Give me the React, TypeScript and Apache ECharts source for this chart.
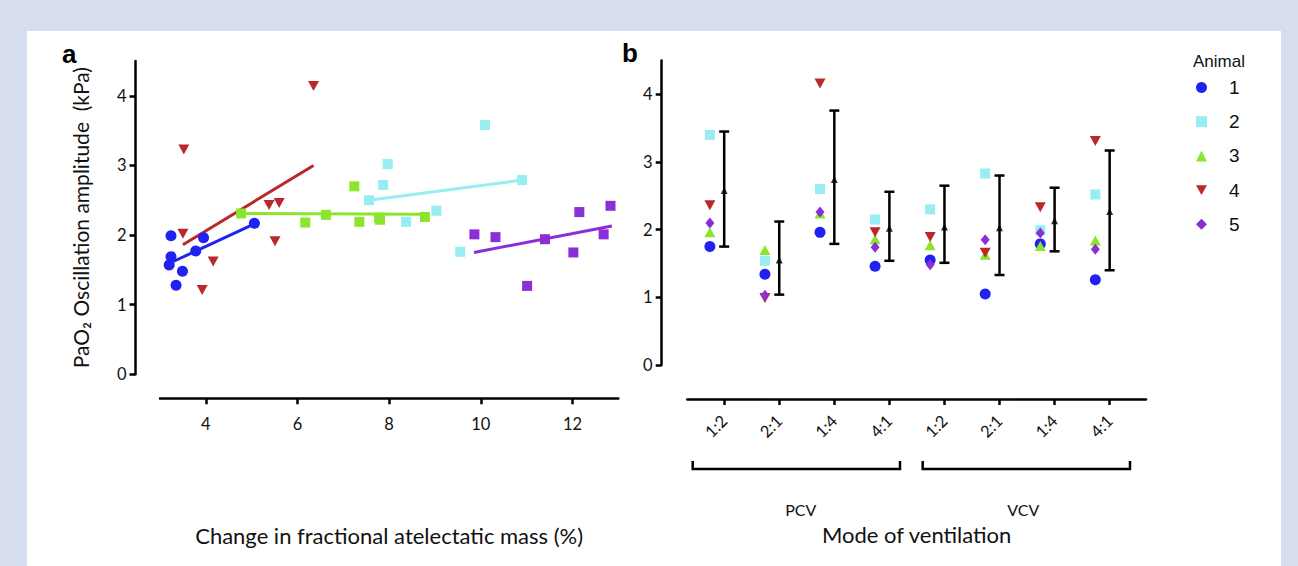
import React, { useEffect, useRef } from "react";
import * as echarts from "echarts";

// ---------- shared ----------
const animals = ["1", "2", "3", "4", "5"];
const colors = ["#2121f2", "#98edf2", "#8be52c", "#b9282b", "#8a2fd6"];

// ---------- panel a : change in fractional atelectatic mass vs PaO2 amplitude ----------
const a1x = [3.24, 3.24, 3.2, 3.49, 3.35, 3.78, 3.95, 5.06];
const a1y = [1.99, 1.69, 1.57, 1.48, 1.28, 1.77, 1.96, 2.17];
const a2x = [10.09, 7.97, 7.87, 7.56, 9.03, 8.37, 9.55, 10.9];
const a2y = [3.58, 3.02, 2.72, 2.5, 2.35, 2.19, 1.76, 2.79];
const a3x = [4.77, 6.17, 6.62, 7.24, 7.35, 7.78, 7.8, 8.78];
const a3y = [2.31, 2.18, 2.29, 2.7, 2.19, 2.25, 2.22, 2.26];
const a4x = [3.52, 3.5, 4.16, 3.92, 5.38, 5.6, 5.51, 6.35];
const a4y = [3.23, 2.02, 1.62, 1.21, 2.43, 2.46, 1.91, 4.14];
const a5x = [9.86, 10.32, 11.01, 11.4, 12.02, 12.15, 12.68, 12.83];
const a5y = [2.01, 1.97, 1.27, 1.94, 1.75, 2.33, 2.01, 2.42];

// regression line end points [x0, y0, x1, y1]
const fit1 = [3.29, 1.62, 5.06, 2.16];
const fit2 = [7.56, 2.5, 10.9, 2.79];
const fit3 = [4.72, 2.31, 8.78, 2.3];
const fit4 = [3.5, 1.86, 6.35, 3.0];
const fit5 = [9.85, 1.75, 12.86, 2.13];

const aXTicks = [4, 6, 8, 10, 12];
const yTicks = [0, 1, 2, 3, 4];

// ---------- panel b : mode of ventilation ----------
const modes = ["1:2", "2:1", "1:4", "4:1", "1:2", "2:1", "1:4", "4:1"];
const groups = ["PCV", "VCV"];
const b1 = [1.75, 1.34, 1.96, 1.46, 1.55, 1.05, 1.79, 1.26];
const b2 = [3.4, 1.54, 2.6, 2.15, 2.3, 2.83, 1.99, 2.52];
const b3 = [1.96, 1.7, 2.24, 1.86, 1.77, 1.63, 1.76, 1.84];
const b4 = [2.36, 0.99, 4.16, 1.96, 1.89, 1.66, 2.33, 3.31];
const b5 = [2.1, 1.03, 2.26, 1.74, 1.48, 1.85, 1.95, 1.71];
const bMean = [2.58, 1.55, 2.74, 2.02, 2.04, 2.03, 2.13, 2.27];
const bLow = [1.75, 1.04, 1.79, 1.54, 1.51, 1.33, 1.68, 1.4];
const bHigh = [3.45, 2.12, 3.76, 2.56, 2.65, 2.8, 2.62, 3.17];

const FONT = "Lato";
const DOWN_TRIANGLE = "path://M0,0 L10,0 L5,9 Z";

export default function App() {
  const ref = useRef<HTMLDivElement>(null);

  useEffect(() => {
    if (!ref.current) return;
    const chart = echarts.init(ref.current, undefined, { renderer: "svg" });

    const ax = [a1x, a2x, a3x, a4x, a5x];
    const ay = [a1y, a2y, a3y, a4y, a5y];
    const fits = [fit1, fit2, fit3, fit4, fit5];
    const bVals = [b1, b2, b3, b4, b5];
    const aSymbols = ["circle", "rect", "rect", DOWN_TRIANGLE, "rect"];
    const aSizes: any[] = [11, 10, 10, [11, 10], 10];
    const bSymbols = ["circle", "rect", "triangle", DOWN_TRIANGLE, "diamond"];
    const bSizes: any[] = [11, 10, [11, 10], [11, 10], [9, 11]];
    const pointShift = -0.26;

    const series: any[] = [];
    animals.forEach((name, k) => {
      series.push({
        name: "a" + name,
        type: "scatter",
        xAxisIndex: 0,
        yAxisIndex: 0,
        symbol: aSymbols[k],
        symbolSize: aSizes[k],
        itemStyle: { color: colors[k], opacity: 1 },
        data: ax[k].map((x, i) => [x, ay[k][i]]),
        z: 3,
      });
      series.push({
        name: "fit" + name,
        type: "line",
        xAxisIndex: 0,
        yAxisIndex: 0,
        symbol: "none",
        lineStyle: { color: colors[k], width: 3 },
        data: [
          [fits[k][0], fits[k][1]],
          [fits[k][2], fits[k][3]],
        ],
        z: 2,
      });
    });
    series.push({
      name: "Mean ± SD",
      type: "custom",
      xAxisIndex: 1,
      yAxisIndex: 1,
      encode: { x: 0, y: [1, 2] },
      data: modes.map((_, i) => [i, bLow[i], bHigh[i]]),
      renderItem: (params: any, api: any) => {
        const x = api.value(0);
        const top = api.coord([x, api.value(2)]);
        const bot = api.coord([x, api.value(1)]);
        const cap = 5;
        const style = { stroke: "#000", lineWidth: 2.5 };
        return {
          type: "group",
          children: [
            { type: "line", shape: { x1: top[0], y1: top[1], x2: bot[0], y2: bot[1] }, style },
            { type: "line", shape: { x1: top[0] - cap, y1: top[1], x2: top[0] + cap, y2: top[1] }, style },
            { type: "line", shape: { x1: bot[0] - cap, y1: bot[1], x2: bot[0] + cap, y2: bot[1] }, style },
          ],
        };
      },
      z: 3,
    });
    series.push({
      name: "Mean",
      type: "scatter",
      xAxisIndex: 1,
      yAxisIndex: 1,
      symbol: "triangle",
      symbolSize: [7, 7],
      itemStyle: { color: "#000" },
      data: modes.map((_, i) => [i, bMean[i]]),
      z: 4,
    });
    animals.forEach((name, k) => {
      series.push({
        name,
        type: "scatter",
        xAxisIndex: 1,
        yAxisIndex: 1,
        symbol: bSymbols[k],
        symbolSize: bSizes[k],
        itemStyle: { color: colors[k], opacity: 1 },
        data: bVals[k].map((v, i) => [i + pointShift, v]),
        z: 3 + k * 0.1,
      });
    });

    const axisLine = { show: true, onZero: false, lineStyle: { color: "#000", width: 2.5 } };
    const axisTickBase = { show: true, length: 6, lineStyle: { color: "#000", width: 2.5 } };
    const tickLabel = { fontFamily: FONT, fontSize: 16.5, color: "#111" };
    const nameStyle = { fontFamily: FONT, fontSize: 22, color: "#111" };

    const option: any = {
      animation: false,
      backgroundColor: "#d5ddee",
      grid: [
        { left: 160, top: 61, width: 458.3, height: 313.3 },
        { left: 687.3, top: 60.5, width: 458.7, height: 304.5 },
      ],
      xAxis: [
        {
          gridIndex: 0,
          type: "value",
          min: 3,
          max: 13,
          offset: 24,
          axisLine,
          axisTick: { ...axisTickBase, customValues: aXTicks },
          axisLabel: { ...tickLabel, customValues: aXTicks, margin: 17 },
          splitLine: { show: false },
          name: "Change in fractional atelectatic mass (%)",
          nameLocation: "middle",
          nameGap: 126,
          nameTextStyle: nameStyle,
        },
        {
          gridIndex: 1,
          type: "value",
          min: -0.67,
          max: 7.66,
          offset: 34,
          axisLine,
          axisTick: { ...axisTickBase, customValues: modes.map((_, i) => i) },
          axisLabel: {
            ...tickLabel,
            customValues: modes.map((_, i) => i),
            formatter: (v: number) => modes[Math.round(v)] ?? "",
            rotate: 45,
            margin: 19,
          },
          splitLine: { show: false },
          name: "Mode of ventilation",
          nameLocation: "middle",
          nameGap: 124,
          nameTextStyle: nameStyle,
        },
      ],
      yAxis: [
        {
          gridIndex: 0,
          type: "value",
          min: 0,
          max: 4.5,
          offset: 24.5,
          axisLine,
          axisTick: { ...axisTickBase, customValues: yTicks },
          axisLabel: { ...tickLabel, customValues: yTicks, margin: 9 },
          splitLine: { show: false },
          name: "PaO\u2082 Oscillation amplitude  (kPa)",
          nameLocation: "middle",
          nameRotate: 90,
          nameGap: 45,
          nameTextStyle: { ...nameStyle, fontSize: 21 },
        },
        {
          gridIndex: 1,
          type: "value",
          min: 0,
          max: 4.5,
          offset: 25.6,
          axisLine,
          axisTick: { ...axisTickBase, customValues: yTicks },
          axisLabel: { ...tickLabel, customValues: yTicks, margin: 9 },
          splitLine: { show: false },
        },
      ],
      legend: {
        data: animals.map((name, k) => ({ name, icon: k === 3 ? DOWN_TRIANGLE : undefined })),
        orient: "vertical",
        left: 1196,
        top: 78,
        padding: 0,
        itemWidth: 11,
        itemHeight: 11,
        itemGap: 15.2,
        selectedMode: false,
        textStyle: { fontFamily: "Liberation Sans", fontSize: 19, color: "#111", padding: [0, 0, 0, 17] },
      },
      graphic: {
        elements: [
          { type: "rect", z: -10, silent: true, shape: { x: 27, y: 31, width: 1254, height: 540 }, style: { fill: "#fff" } },
          { type: "text", x: 62, y: 54, style: { text: "a", font: "bold 26px Liberation Sans", fill: "#000", textVerticalAlign: "middle" } },
          { type: "text", x: 622, y: 53, style: { text: "b", font: "bold 26px Liberation Sans", fill: "#000", textVerticalAlign: "middle" } },
          { type: "text", x: 1193, y: 61, style: { text: "Animal", font: "17px Liberation Sans", fill: "#111", textVerticalAlign: "middle" } },
          { type: "polyline", shape: { points: [[692.7, 461], [692.7, 469], [900, 469], [900, 461]] }, style: { stroke: "#000", lineWidth: 2.5, fill: "none" } },
          { type: "polyline", shape: { points: [[922.7, 461], [922.7, 469], [1130, 469], [1130, 461]] }, style: { stroke: "#000", lineWidth: 2.5, fill: "none" } },
          { type: "text", x: 800.7, y: 509, style: { text: groups[0], font: `16px ${FONT}`, fill: "#111", textAlign: "center", textVerticalAlign: "middle" } },
          { type: "text", x: 1023.3, y: 509, style: { text: groups[1], font: `16px ${FONT}`, fill: "#111", textAlign: "center", textVerticalAlign: "middle" } },
        ],
      },
      series,
    };

    chart.setOption(option);
    return () => chart.dispose();
  }, []);

  return <div ref={ref} style={{ position: "fixed", left: 0, top: 0, width: 1298, height: 566 }} />;
}
